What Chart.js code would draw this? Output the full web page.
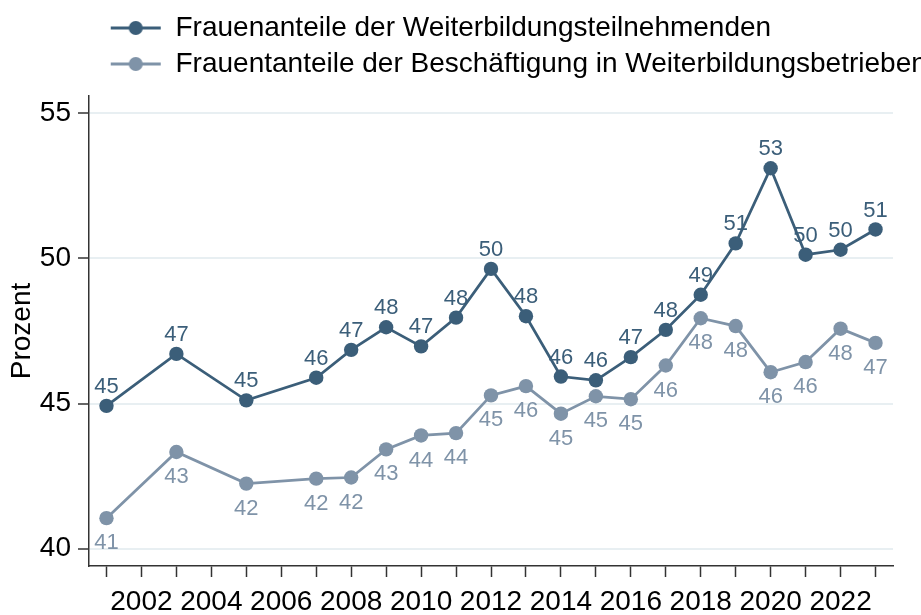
<!DOCTYPE html>
<html lang="de">
<head>
<meta charset="UTF-8">
<title>Frauenanteile Weiterbildung</title>
<script src="https://cdn.jsdelivr.net/npm/chart.js"></script>
<style>
  body { margin: 0; background: #fff; }
</style>
</head>
<body>
<canvas id="chart" width="921" height="615"></canvas>
<script>
// Daten
const years = [2001, 2003, 2005, 2007, 2008, 2009, 2010, 2011, 2012, 2013, 2014,
               2015, 2016, 2017, 2018, 2019, 2020, 2021, 2022, 2023];
const teilnehmende = [44.92, 46.71, 45.11, 45.89, 46.85, 47.63, 46.97, 47.96, 49.64, 48.01, 45.93,
                      45.80, 46.60, 47.54, 48.75, 50.52, 53.11, 50.13, 50.30, 51.00];
const beschaeftigte = [41.05, 43.33, 42.24, 42.41, 42.45, 43.42, 43.90, 43.98, 45.28, 45.60, 44.65,
                       45.25, 45.15, 46.31, 47.94, 47.67, 46.08, 46.43, 47.58, 47.09];
const seriesNames = ['Frauenanteile der Weiterbildungsteilnehmenden',
                     'Frauentanteile der Beschäftigung in Weiterbildungsbetrieben'];
const xTicks = [2001, 2002, 2003, 2004, 2005, 2006, 2007, 2008, 2009, 2010, 2011, 2012,
                2013, 2014, 2015, 2016, 2017, 2018, 2019, 2020, 2021, 2022, 2023];
const xTickLabels = ['2002', '2004', '2006', '2008', '2010', '2012', '2014', '2016', '2018', '2020', '2022'];
const yTicks = [40, 45, 50, 55];

const dark = '#3b5e79';
const light = '#7f93a8';
const fontFamily = '"Liberation Sans", Arial, sans-serif';

// Legendensymbol: Linie mit Punkt
function makeMarker(color) {
  const c = document.createElement('canvas');
  c.width = 154; c.height = 18;
  const g = c.getContext('2d');
  g.strokeStyle = color;
  g.lineWidth = 3;
  g.beginPath(); g.moveTo(103, 9); g.lineTo(153, 9); g.stroke();
  g.fillStyle = color;
  g.beginPath(); g.arc(128, 9, 7, 0, Math.PI * 2); g.fill();
  return c;
}

// Werte an die Punkte schreiben
const valueLabels = {
  id: 'valueLabels',
  afterLayout(chart) {
    // Legende darf bis zum rechten Rand laufen (wird dort abgeschnitten)
    const lg = chart.legend;
    lg.right = chart.width;
    lg.width = lg.right - lg.left;
  },
  afterDatasetsDraw(chart) {
    const ctx = chart.ctx;
    chart.data.datasets.forEach((ds, i) => {
      const meta = chart.getDatasetMeta(i);
      ctx.save();
      ctx.font = '22px ' + fontFamily;
      ctx.fillStyle = ds.borderColor;
      ctx.textAlign = 'center';
      ctx.textBaseline = 'middle';
      meta.data.forEach((pt, j) => {
        ctx.fillText(String(Math.round(ds.data[j].y)), pt.x, pt.y + ds.labelOffset);
      });
      ctx.restore();
    });
  }
};

const markers = [makeMarker(dark), makeMarker(light)];

new Chart(document.getElementById('chart'), {
  type: 'line',
  data: {
    datasets: [
      {
        label: seriesNames[0],
        data: years.map((y, i) => ({ x: y, y: teilnehmende[i] })),
        borderColor: dark,
        backgroundColor: dark,
        pointBackgroundColor: dark,
        pointBorderWidth: 0,
        pointRadius: 7.2,
        borderWidth: 2.75,
        labelOffset: -19
      },
      {
        label: seriesNames[1],
        data: years.map((y, i) => ({ x: y, y: beschaeftigte[i] })),
        borderColor: light,
        backgroundColor: light,
        pointBackgroundColor: light,
        pointBorderWidth: 0,
        pointRadius: 7.2,
        borderWidth: 2.75,
        labelOffset: 25
      }
    ]
  },
  options: {
    responsive: false,
    animation: false,
    layout: { padding: { top: 6, left: 0, right: 28, bottom: 0 } },
    plugins: {
      legend: {
        position: 'top',
        align: 'start',
        labels: {
          usePointStyle: true,
          pointStyleWidth: 153.5,
          boxHeight: 28,
          padding: 8,
          color: '#000',
          font: { family: fontFamily, size: 28 },
          generateLabels: (chart) => chart.data.datasets.map((ds, i) => ({
            text: ds.label,
            pointStyle: markers[i],
            fillStyle: 'transparent',
            strokeStyle: 'transparent',
            lineWidth: 0,
            fontColor: '#000',
            hidden: false,
            datasetIndex: i
          }))
        }
      },
      subtitle: {
        display: true,
        text: '',
        weight: 500,
        padding: { top: 6.8, bottom: 0 },
        font: { size: 1 }
      },
      tooltip: { enabled: false }
    },
    scales: {
      x: {
        type: 'linear',
        min: 2000.5,
        max: 2023.5,
        afterBuildTicks: (axis) => { axis.ticks = xTicks.map(v => ({ value: v })); },
        afterFit: (axis) => { axis.height = 49; },
        ticks: {
          autoSkip: false,
          maxRotation: 0,
          padding: 8,
          color: '#000',
          font: { family: fontFamily, size: 28 },
          callback: (v) => xTickLabels.includes(String(v)) ? String(v) : ''
        },
        grid: { drawOnChartArea: false, tickColor: '#333', tickWidth: 1.5, tickLength: 11 },
        border: { color: '#333', width: 1.5 }
      },
      y: {
        min: 39.4,
        max: 55.6,
        afterBuildTicks: (axis) => { axis.ticks = yTicks.map(v => ({ value: v })); },
        afterFit: (axis) => { axis.width = 89; },
        ticks: {
          padding: 7,
          color: '#000',
          font: { family: fontFamily, size: 28 }
        },
        grid: { color: '#e8eff2', lineWidth: 2, tickColor: '#333', tickWidth: 1.5, tickLength: 11 },
        border: { color: '#333', width: 1.5 },
        title: {
          display: true,
          text: 'Prozent',
          color: '#000',
          padding: { top: 5, bottom: 4 },
          font: { family: fontFamily, size: 28 }
        }
      }
    }
  },
  plugins: [valueLabels]
});
</script>
</body>
</html>
